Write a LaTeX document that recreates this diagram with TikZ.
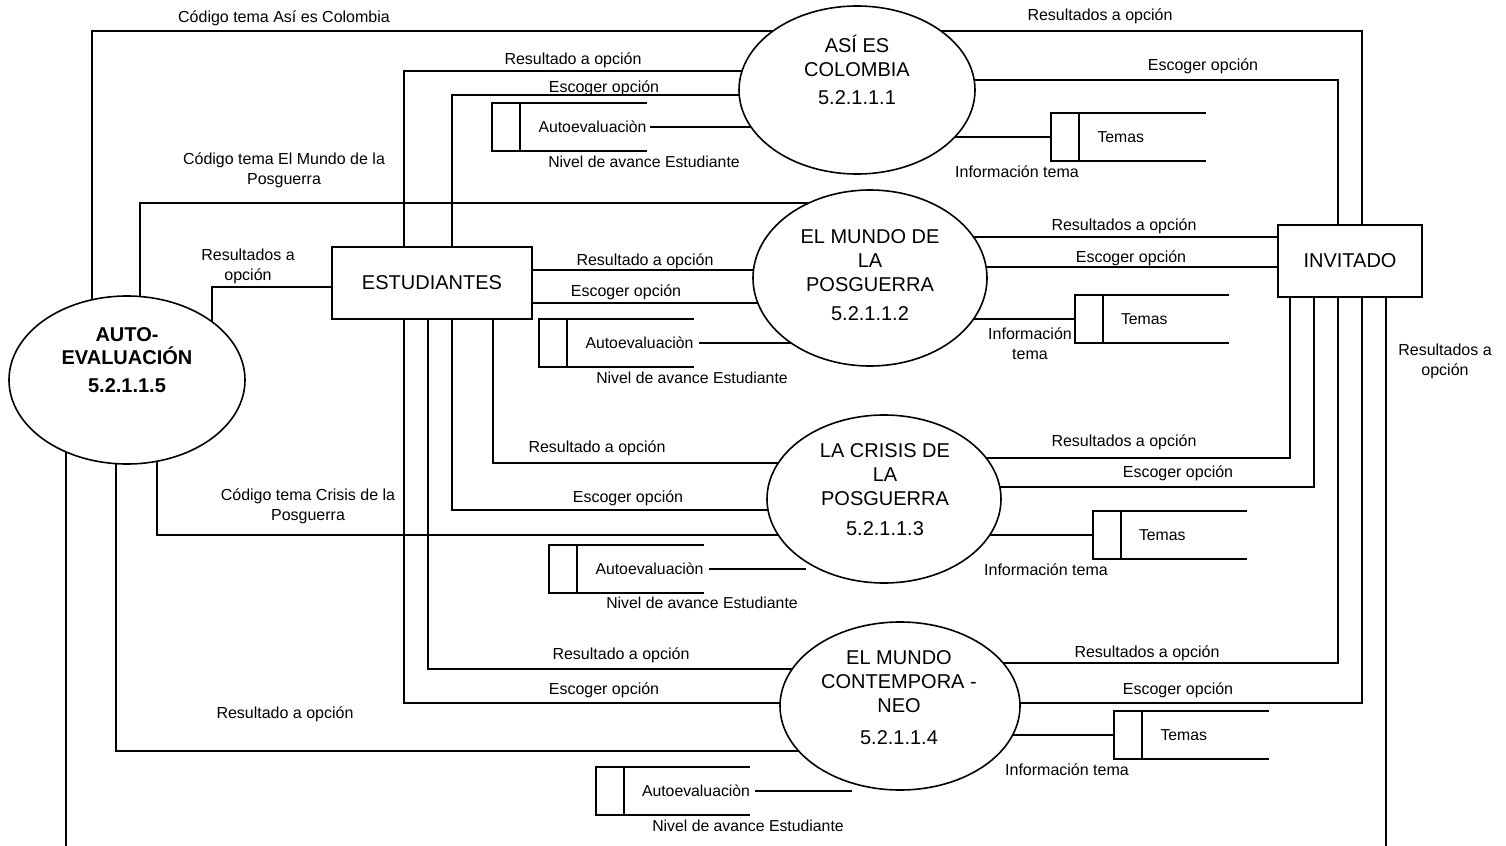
\documentclass[tikz,border=0pt]{standalone}
\usepackage{fontspec}
\setmainfont{Liberation Sans}
\usetikzlibrary{shapes.geometric,backgrounds}

% data store: open box with a divider, drawn around an empty named node
\newcommand\dfdstore[2]{%
  \node[storebox] (#1) at (#2) {};
  \draw[storeline] (#1.north east) -- (#1.north west) -- (#1.south west) -- (#1.south east);
  \draw[storeline] ([xshift=14pt]#1.north west) -- ([xshift=14pt]#1.south west);
}

\begin{document}
\begin{tikzpicture}[x=0.5pt,y=-0.5pt,
  flow/.style={line width=1pt},
  proc/.style={ellipse,draw,line width=0.8pt,fill=white,inner sep=0pt},
  ptext/.style={align=center,inner sep=0pt,font=\fontsize{10}{12}\selectfont},
  entity/.style={rectangle,draw,line width=1pt,fill=white,inner sep=0pt,minimum height=36pt,font=\fontsize{10}{12}\selectfont},
  storebox/.style={rectangle,inner sep=0pt,minimum width=77pt,minimum height=24pt},
  storeline/.style={line width=1pt},
  storetxt/.style={anchor=west,inner sep=0pt,font=\fontsize{7.9}{9}\selectfont},
  lbl/.style={align=center,inner sep=0pt,font=\fontsize{8}{10}\selectfont},
  lbls/.style={align=center,inner sep=0pt,font=\fontsize{7.9}{9}\selectfont}
]
\useasboundingbox (0,0) rectangle (1506,846);

% processes
\node[proc,minimum width=118pt,minimum height=84pt] (asi) at (857,90) {};
\node[ptext] (asiT) at (857,70) {ASÍ ES\\COLOMBIA\\[2pt]5.2.1.1.1};
\node[proc,minimum width=117pt,minimum height=88pt] (mundo) at (870,278) {};
\node[ptext] (mundoT) at (870,275) {EL MUNDO DE\\LA\\POSGUERRA\\[2.5pt]5.2.1.1.2};
\node[proc,minimum width=117pt,minimum height=84pt] (crisis) at (884,499) {};
\node[ptext] (crisisT) at (885,490) {LA CRISIS DE\\LA\\POSGUERRA\\[3pt]5.2.1.1.3};
\node[proc,minimum width=120pt,minimum height=84pt] (contemp) at (900,706) {};
\node[ptext] (contempT) at (899,698) {EL MUNDO\\CONTEMPORA -\\NEO\\[4pt]5.2.1.1.4};
\node[proc,minimum width=118pt,minimum height=84pt] (auto) at (127,380) {};
\node[ptext,font=\bfseries\fontsize{10}{11.5}\selectfont] (autoT) at (127,360) {AUTO-\\EVALUACIÓN\\[2.5pt]5.2.1.1.5};

% external entities
\node[entity,minimum width=100pt] (estud) at (432,283) {ESTUDIANTES};
\node[entity,minimum width=72pt] (invit) at (1350,261) {INVITADO};

% data stores
\dfdstore{st1}{569.5,127}
\dfdstore{st2}{616.5,343}
\dfdstore{st3}{626.5,569}
\dfdstore{st4}{673,791}
\dfdstore{tm1}{1128.5,137}
\dfdstore{tm2}{1152,319}
\dfdstore{tm3}{1170,535}
\dfdstore{tm4}{1191.5,735}
\node[storetxt] (st1t) at ([xshift=23pt]st1.west) {Autoevaluaciòn};
\node[storetxt] (st2t) at ([xshift=23pt]st2.west) {Autoevaluaciòn};
\node[storetxt] (st3t) at ([xshift=23pt]st3.west) {Autoevaluaciòn};
\node[storetxt] (st4t) at ([xshift=23pt]st4.west) {Autoevaluaciòn};
\node[storetxt] (tm1t) at ([xshift=23pt]tm1.west) {Temas};
\node[storetxt] (tm2t) at ([xshift=23pt]tm2.west) {Temas};
\node[storetxt] (tm3t) at ([xshift=23pt]tm3.west) {Temas};
\node[storetxt] (tm4t) at ([xshift=23pt]tm4.west) {Temas};

% free ends
\coordinate (autoout) at (66,846);
\coordinate (invout) at (1386,846);
\coordinate (st3end) at (806,569);
\coordinate (st4end) at (852,791);

% flows (under the shapes, whose white fill trims them)
\begin{scope}[on background layer]
\draw[flow] (92,0 |- auto) |- (asi |- 0,31);
\draw[flow] (asi |- 0,31) -| (1362,0 |- invit);
\draw[flow] (asi |- 0,80) -| (1338,0 |- invit);
\draw[flow] (404,0 |- estud) |- (asi |- 0,71);
\draw[flow] (452,0 |- estud) |- (asi |- 0,95);
\draw[flow] ([xshift=1.5pt]st1.east) -- (asi |- st1);
\draw[flow] (asi |- tm1) -- (tm1.west);

\draw[flow] (140,0 |- auto) |- (mundo |- 0,203);
\draw[flow] (212,0 |- auto) |- (estud |- 0,287);
\draw[flow] (estud |- 0,270) -- (mundo |- 0,270);
\draw[flow] (estud |- 0,303) -- (mundo |- 0,303);
\draw[flow] ([xshift=2.5pt]st2.east) -- (mundo |- st2);
\draw[flow] (mundo |- tm2) -- (tm2.west);
\draw[flow] (mundo |- 0,237) -- (invit |- 0,237);
\draw[flow] (mundo |- 0,267) -- (invit |- 0,267);

\draw[flow] (493,0 |- estud) |- (crisis |- 0,463);
\draw[flow] (452,0 |- estud) |- (crisis |- 0,510);
\draw[flow] (157,0 |- auto) |- (crisis |- 0,535);
\draw[flow] ([xshift=2.5pt]st3.east) -- (st3end);
\draw[flow] (crisis |- tm3) -- (tm3.west);
\draw[flow] (1290,0 |- invit) |- (crisis |- 0,458);
\draw[flow] (1314,0 |- invit) |- (crisis |- 0,487);

\draw[flow] (428,0 |- estud) |- (contemp |- 0,669);
\draw[flow] (404,0 |- estud) |- (contemp |- 0,703);
\draw[flow] (116,0 |- auto) |- (contemp |- 0,751);
\draw[flow] ([xshift=2.5pt]st4.east) -- (st4end);
\draw[flow] (contemp |- tm4) -- (tm4.west);
\draw[flow] (1338,0 |- invit) |- (contemp |- 0,663);
\draw[flow] (1362,0 |- invit) |- (contemp |- 0,703);

\draw[flow] (autoout |- auto) -- (autoout);
\draw[flow] (invout |- invit) -- (invout);
\end{scope}

% flow labels
\node[lbl] (l1) at (284,18.5) {Código tema Así es Colombia};
\node[lbl] (l2) at (1100,16) {Resultados a opción};
\node[lbl] (l3) at (1203,66) {Escoger opción};
\node[lbl] (l4) at (573,60) {Resultado a opción};
\node[lbl] (l5) at (604,88) {Escoger opción};
\node[lbls] (l6) at (644,162) {Nivel de avance Estudiante};
\node[lbl] (l7) at (1017,172) {Información tema};
\node[lbl] (l8) at (284,170) {Código tema El Mundo de la\\Posguerra};
\node[lbl] (l9) at (248,266) {Resultados a\\opción};
\node[lbl] (l10) at (645,261) {Resultado a opción};
\node[lbl] (l11) at (626,292) {Escoger opción};
\node[lbls] (l12) at (692,378) {Nivel de avance Estudiante};
\node[lbl] (l13) at (1030,344) {Información\\tema};
\node[lbl] (l14) at (1124,226) {Resultados a opción};
\node[lbl] (l15) at (1131,258) {Escoger opción};
\node[lbl] (l16) at (597,448) {Resultado a opción};
\node[lbl] (l17) at (628,498) {Escoger opción};
\node[lbl] (l18) at (308,506) {Código tema Crisis de la\\Posguerra};
\node[lbls] (l19) at (702,603) {Nivel de avance Estudiante};
\node[lbl] (l20) at (1046,570) {Información tema};
\node[lbl] (l21) at (1124,442) {Resultados a opción};
\node[lbl] (l22) at (1178,473) {Escoger opción};
\node[lbl] (l23) at (621,655) {Resultado a opción};
\node[lbl] (l24) at (604,690) {Escoger opción};
\node[lbl] (l25) at (285,714) {Resultado a opción};
\node[lbls] (l26) at (748,826) {Nivel de avance Estudiante};
\node[lbl] (l27) at (1067,770) {Información tema};
\node[lbl] (l28) at (1147,653) {Resultados a opción};
\node[lbl] (l29) at (1178,690) {Escoger opción};
\node[lbl] (l30) at (1445,361) {Resultados a\\opción};
\end{tikzpicture}
\end{document}
